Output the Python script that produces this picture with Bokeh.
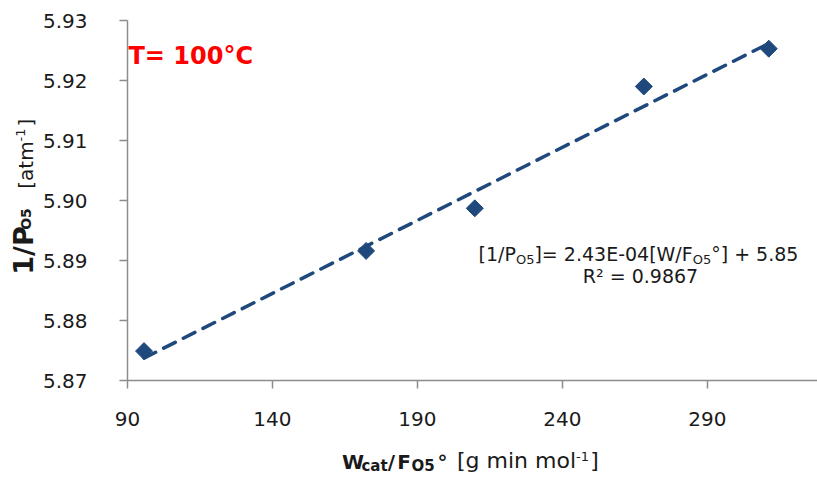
import numpy as np
from bokeh.plotting import figure
from bokeh.layouts import row, column
from bokeh.models import Label, FixedTicker, Range1d, CustomJSTickFormatter
from bokeh.core.properties import value
from bokeh.embed import file_html
from bokeh.resources import INLINE

# ---- data ----
x_vals = [95.7, 172.3, 209.8, 268.1, 311.2]          # W_cat/F_O5° [g min mol-1]
y_vals = [5.8749, 5.8916, 5.8987, 5.9190, 5.9253]    # 1/P_O5 [atm-1]
x_ticks = [90, 140, 190, 240, 290]
y_ticks = [5.87, 5.88, 5.89, 5.90, 5.91, 5.92, 5.93]
x_limits = [90, 328]
y_limits = [5.87, 5.93]
temp_text = "T= 100°C"
eq_line1 = [("[1/P", "n"), ("O5", "s"), ("]= 2.43E-04[W/F", "n"), ("O5", "s"), ("°] + 5.85", "n")]
eq_line2 = "R² = 0.9867"
# (text, style, centre of the piece along the title, in canvas pixels)
x_title = [("W", "bn", 352.5), ("cat", "bs", 374), ("/", "bn", 391), ("F", "bn", 403.5),
           ("O5", "bs", 422.5), ("°", "bn", 442), ("[g min mol", "n", 516),
           ("-1", "p", 582), ("]", "n", 594)]
y_title = [("1/P", "bn", 250), ("O5", "bs", 218.5), ("[atm", "n", 164.5),
           ("-1", "p", 134.5), ("]", "n", 122)]

# ---- layout ----
W, H = 817, 479
YT_W = 38                      # strip holding the y-axis title
XT_H = 36                      # strip holding the x-axis title
MAIN_W, MAIN_H = W - YT_W, H - XT_H
L, R, T = 127 - YT_W, 0, 20
B = MAIN_H - 380
FW, FH = MAIN_W - L - R, MAIN_H - T - B
BLUE = "#1F497D"
AXIS = "#8C8C8C"
TXT = "#1A1A1A"
FONT = "DejaVu Sans"
MID = 0.346                    # centre of DejaVu line box above the baseline, in em

p = figure(width=MAIN_W, height=MAIN_H, output_backend="svg", toolbar_location=None,
           x_range=Range1d(*x_limits), y_range=Range1d(*y_limits),
           min_border_left=L, min_border_right=R, min_border_top=T, min_border_bottom=B)
p.outline_line_color = None
p.grid.visible = False
p.background_fill_color = "white"
p.border_fill_color = "white"

for ax in (p.xaxis[0], p.yaxis[0]):
    ax.axis_line_color = AXIS
    ax.axis_line_width = 1.5
    ax.major_tick_line_color = AXIS
    ax.major_tick_line_width = 1.5
    ax.major_tick_out = 8
    ax.major_tick_in = 0
    ax.minor_tick_line_color = None
    ax.major_label_text_font = FONT
    ax.major_label_text_font_size = "20px"
    ax.major_label_text_color = TXT

p.xaxis.ticker = FixedTicker(ticks=x_ticks)
p.yaxis.ticker = FixedTicker(ticks=y_ticks)
p.yaxis.formatter = CustomJSTickFormatter(code="return tick.toFixed(2);")
p.xaxis.major_label_standoff = 23
p.yaxis.major_label_standoff = 32

# trend line from a least-squares fit of the data
coef = np.polyfit(x_vals, y_vals, 1)
xs = np.array([min(x_vals), max(x_vals)])
p.line(xs, np.polyval(coef, xs), line_color=BLUE, line_width=3.5,
       line_dash="13 9", line_cap="round")

p.scatter(x_vals, y_vals, marker="square", size=12, angle=np.pi / 4,
          fill_color=BLUE, line_color=BLUE)

# ---- text helpers ----
REG = {" ": 651, "[": 799, "]": 799, "/": 690, "P": 1235, "O": 1612, "=": 1716, ".": 651,
       "E": 1294, "-": 739, "W": 2025, "F": 1178, "°": 1024, "+": 1716, "R": 1423, "²": 821,
       "g": 1300, "m": 1995, "i": 569, "n": 1298, "o": 1253, "l": 569, "a": 1255, "t": 803}
STY = {"n": (False, 0), "s": (False, -3), "p": (False, 8),
       "bn": (True, 0), "bs": (True, -3)}


def width(txt, size):
    return sum(REG.get(c, 1303) for c in txt) / 2048.0 * size


# labels inside the main frame: pixel -> data of the main plot
def dx(px):
    return x_limits[0] + (px - YT_W - L) * (x_limits[1] - x_limits[0]) / FW


def dy(py):
    return y_limits[0] + (MAIN_H - B - py) * (y_limits[1] - y_limits[0]) / FH


def add_label(txt, px, baseline, size, bold=False, color=TXT, align="left"):
    p.add_layout(Label(x=dx(px), y=dy(baseline - MID * size), text=txt, text_font=FONT,
                       text_font_size=f"{size}px",
                       text_font_style="bold" if bold else "normal",
                       text_color=color, text_align=align, text_baseline="middle"))


add_label(temp_text, 128, 64, 24, bold=True, color="#FF0000")

eq_sizes = {"n": 19, "s": 13}
w1 = sum(width(t, eq_sizes[s]) for t, s in eq_line1)
x = 638 - w1 / 2
for txt, st in eq_line1:
    size = eq_sizes[st]
    add_label(txt, x, 260 - STY[st][1], size)
    x += width(txt, size)
add_label(eq_line2, 640, 282, 19, align="center")


def text_strip(w, h, y0=0, y1=None):
    f = figure(width=w, height=h, output_backend="svg", toolbar_location=None,
               x_range=Range1d(0, w), y_range=Range1d(y0, h if y1 is None else y1),
               x_axis_location=None, y_axis_location=None,
               min_border=0, min_border_left=0, min_border_right=0,
               min_border_top=0, min_border_bottom=0)
    f.outline_line_color = None
    f.grid.visible = False
    f.background_fill_color = "white"
    f.border_fill_color = "white"
    return f


def put(f, txt, x, y, size, bold, angle=0.0):
    f.text(x=[x], y=[y], text=[txt], text_font=value(FONT),
           text_font_size=value(f"{size}px"),
           text_font_style="bold" if bold else "normal",
           text_color=TXT, angle=angle, text_align="center", text_baseline="middle")


# x-axis title strip (canvas rows MAIN_H .. H), baseline at canvas y = 468
fx = text_strip(W, XT_H)
xt_sizes = {"bn": 20, "bs": 15, "n": 22, "p": 13}
for txt, st, pos in x_title:
    size = xt_sizes[st]
    baseline = 468 - STY[st][1]
    put(fx, txt, pos, H - (baseline - MID * size), size, STY[st][0])

# y-axis title strip (rotated text, reading upwards), baseline at canvas x = 32.
# Its frame is aligned with the main frame (canvas rows T .. MAIN_H - B).
fy = text_strip(YT_W, MAIN_H, MAIN_H - (MAIN_H - B), MAIN_H - T)
yt_sizes = {"bn": 27, "bs": 14, "n": 20, "p": 13}
for txt, st, pos in y_title:
    size = yt_sizes[st]
    baseline_x = 32 - (2 if STY[st][1] < 0 else STY[st][1])
    put(fy, txt, baseline_x - MID * size, MAIN_H - pos, size, STY[st][0],
        angle=np.pi / 2)

layout = column(row(fy, p, spacing=0), fx, spacing=0)
open("out.html", "w").write(file_html(layout, INLINE))
